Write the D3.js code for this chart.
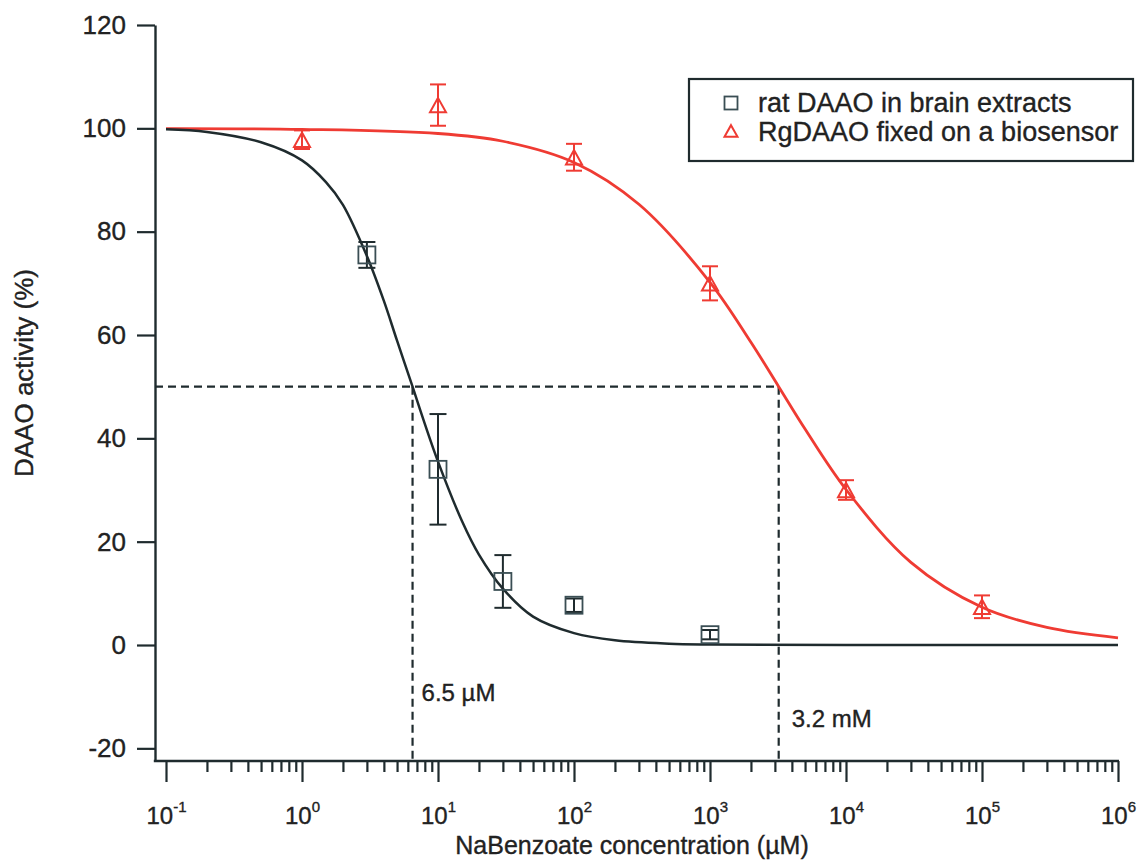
<!DOCTYPE html>
<html>
<head>
<meta charset="utf-8">
<script src="https://d3js.org/d3.v7.min.js"></script>
<style>
  html, body { margin: 0; padding: 0; background: #fff; }
  svg { display: block; font-family: "Liberation Sans", Arial, sans-serif; }
  text { stroke: #222; stroke-width: 0.35px; }
</style>
</head>
<body>
<svg id="chart" width="1143" height="861"></svg>
<script>
// ---- data ----
const ratConc = [3, 10, 30, 100, 1000];
const ratActivity = [75.5, 34, 12.3, 7.7, 2.0];
const ratError = [2.5, 10.7, 5.1, 1.3, 0.9];

const rgConc = [1, 10, 100, 1000, 10000, 100000];
const rgActivity = [97.8, 104.5, 94.4, 70, 30, 7.4];
const rgError = [1.8, 4.0, 2.6, 3.3, 1.9, 2.2];

// fitted curves
const ratFitConc = [0.1, 0.2, 0.5, 1, 1.5, 2, 3, 4, 5, 6.5, 8, 10, 15, 20, 30, 50, 100, 200, 500, 1000, 10000, 1000000];
const ratFitActivity = [99.8, 99.3, 97.3, 93.8, 89.6, 85.2, 75.3, 66.6, 58.9, 50, 42.8, 35.5, 24.0, 17.5, 10.9, 5.5, 2.3, 0.9, 0.25, 0.1, 0, 0];
const rgFitConc = [0.1, 1, 10, 30, 100, 300, 1000, 2000, 3200, 5000, 10000, 30000, 100000, 300000, 1000000];
const rgFitActivity = [99.95, 99.8, 99.0, 97.5, 93.4, 85.3, 70.2, 58.6, 50, 41.8, 30.1, 16.0, 7.3, 3.4, 1.4];

const ic50Conc = [6.5, 3200];
const ic50Labels = ["6.5 \u00b5M", "3.2 mM"];
const halfActivity = 50;

const yTicks = [-20, 0, 20, 40, 60, 80, 100, 120];
const xMajorExp = [-1, 0, 1, 2, 3, 4, 5, 6];

const legendLabels = ["rat DAAO in brain extracts", "RgDAAO fixed on a biosensor"];
const xTitle = "NaBenzoate concentration (\u00b5M)";
const yTitle = "DAAO activity (%)";

// ---- styles ----
const DARK = "#1f2b2e";
const SQ = "#3a4e54";
const RED = "#ef3b33";

const svg = d3.select("#chart");

const x = d3.scaleLog().domain([0.1, 1e6]).range([166, 1118]);
const y = d3.scaleLinear().domain([-22.45, 120]).range([761, 25]);
const axisX0 = 155;

// y axis
const yAxis = d3.axisLeft(y).tickValues(yTicks).tickSize(18).tickSizeOuter(0).tickPadding(11).tickFormat(d => String(d));
const gy = svg.append("g").attr("transform", `translate(${axisX0},0)`).call(yAxis);
gy.select(".domain").attr("stroke", DARK).attr("stroke-width", 2.4);
gy.selectAll(".tick line").attr("stroke", DARK).attr("stroke-width", 2.2);
gy.selectAll(".tick text").attr("font-size", 26).attr("fill", "#222").attr("font-family", "Liberation Sans, Arial, sans-serif");

// x axis baseline
svg.append("line").attr("x1", axisX0 - 1.2).attr("x2", x(1e6) + 1).attr("y1", y(-22.45)).attr("y2", y(-22.45))
  .attr("stroke", DARK).attr("stroke-width", 2.4);

// minor ticks
const minorVals = [];
for (let e = -1; e < 6; e++) for (let k = 2; k <= 9; k++) minorVals.push(k * Math.pow(10, e));
const gxMinor = svg.append("g").attr("transform", `translate(0,${y(-22.45)})`)
  .call(d3.axisBottom(x).tickValues(minorVals).tickSize(11).tickFormat(""));
gxMinor.select(".domain").remove();
gxMinor.selectAll(".tick line").attr("stroke", DARK).attr("stroke-width", 2.2);

// major ticks
const majorVals = xMajorExp.map(e => Math.pow(10, e));
const gxMajor = svg.append("g").attr("transform", `translate(0,${y(-22.45)})`)
  .call(d3.axisBottom(x).tickValues(majorVals).tickSize(21).tickPadding(14).tickFormat(""));
gxMajor.select(".domain").remove();
gxMajor.selectAll(".tick line").attr("stroke", DARK).attr("stroke-width", 2.2);
gxMajor.selectAll(".tick text").each(function(d, i) {
  const t = d3.select(this).attr("font-size", 24).attr("fill", "#222").attr("dy", "1.15em")
    .attr("font-family", "Liberation Sans, Arial, sans-serif").attr("text-anchor", "middle");
  t.text(null);
  t.append("tspan").text("10");
  t.append("tspan").attr("font-size", 15).attr("dy", -12).text(String(xMajorExp[i]));
});

// axis titles
svg.append("text").attr("x", 632).attr("y", 854).attr("text-anchor", "middle")
  .attr("font-size", 25).attr("fill", "#222").text(xTitle);
svg.append("text").attr("transform", `translate(33,373) rotate(-90)`).attr("text-anchor", "middle")
  .attr("font-size", 26).attr("fill", "#222").text(yTitle);

// dashed IC50 guides
const dash = "8,5";
svg.append("line").attr("x1", axisX0).attr("x2", x(ic50Conc[1])).attr("y1", y(halfActivity)).attr("y2", y(halfActivity))
  .attr("stroke", DARK).attr("stroke-width", 2.2).attr("stroke-dasharray", dash);
ic50Conc.forEach((c, i) => {
  svg.append("line").attr("x1", x(c)).attr("x2", x(c)).attr("y1", y(halfActivity)).attr("y2", y(-22.45))
    .attr("stroke", DARK).attr("stroke-width", 2.2).attr("stroke-dasharray", dash);
});
svg.append("text").attr("x", x(ic50Conc[0]) + 9).attr("y", 701).attr("font-size", 24).attr("fill", "#222").text(ic50Labels[0]);
svg.append("text").attr("x", x(ic50Conc[1]) + 13).attr("y", 727).attr("font-size", 24).attr("fill", "#222").text(ic50Labels[1]);

// fitted curves
const line = d3.line().x(d => x(d[0])).y(d => y(d[1])).curve(d3.curveCatmullRom.alpha(0.5));
svg.append("path").datum(rgFitConc.map((c, i) => [c, rgFitActivity[i]]))
  .attr("d", line).attr("fill", "none").attr("stroke", RED).attr("stroke-width", 2.8);
svg.append("path").datum(ratFitConc.map((c, i) => [c, ratFitActivity[i]]))
  .attr("d", line).attr("fill", "none").attr("stroke", DARK).attr("stroke-width", 2.5);

// error bars
function errorBars(conc, act, err, color, capW) {
  const g = svg.append("g").attr("stroke", color).attr("stroke-width", 2).attr("fill", "none");
  conc.forEach((c, i) => {
    const cx = x(c), y1 = y(act[i] + err[i]), y2 = y(act[i] - err[i]);
    g.append("line").attr("x1", cx).attr("x2", cx).attr("y1", y1).attr("y2", y2);
    g.append("line").attr("x1", cx - capW / 2).attr("x2", cx + capW / 2).attr("y1", y1).attr("y2", y1);
    g.append("line").attr("x1", cx - capW / 2).attr("x2", cx + capW / 2).attr("y1", y2).attr("y2", y2);
  });
}
errorBars(ratConc, ratActivity, ratError, DARK, 17);
errorBars(rgConc, rgActivity, rgError, RED, 16);

// markers
function square(g, cx, cy, s, color) {
  g.append("rect").attr("x", cx - s / 2).attr("y", cy - s / 2).attr("width", s).attr("height", s)
    .attr("fill", "none").attr("stroke", color).attr("stroke-width", 1.8);
}
function triangle(g, cx, cy, s, color) {
  const h = s * 0.9;
  g.append("path").attr("d", `M${cx},${cy - h / 2}L${cx + s / 2},${cy + h / 2}L${cx - s / 2},${cy + h / 2}Z`)
    .attr("fill", "none").attr("stroke", color).attr("stroke-width", 2);
}
const gm = svg.append("g");
ratConc.forEach((c, i) => square(gm, x(c), y(ratActivity[i]), 17, SQ));
rgConc.forEach((c, i) => triangle(gm, x(c), y(rgActivity[i]), 16, RED));

// legend
const lg = svg.append("g");
lg.append("rect").attr("x", 689).attr("y", 79).attr("width", 444).attr("height", 82)
  .attr("fill", "#fff").attr("stroke", DARK).attr("stroke-width", 2.2);
square(lg, 731, 103, 13, SQ);
triangle(lg, 731, 131, 13, RED);
lg.append("text").attr("x", 758).attr("y", 112).attr("font-size", 27).attr("fill", "#222").text(legendLabels[0]);
lg.append("text").attr("x", 758).attr("y", 141).attr("font-size", 27).attr("fill", "#222").text(legendLabels[1]);
</script>
</body>
</html>
